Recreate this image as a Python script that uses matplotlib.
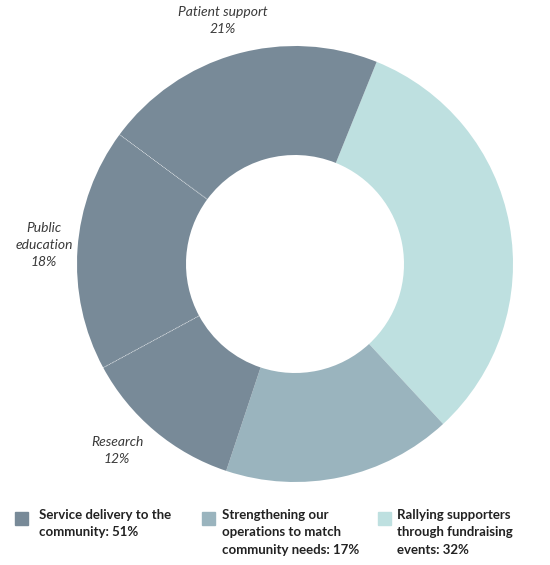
import numpy as np
import matplotlib.pyplot as plt
from matplotlib.patches import Rectangle

# data (clockwise from the teal wedge)
segments = ['Rallying supporters', 'Strengthening operations', 'Research', 'Public education', 'Patient support']
shares = [32, 17, 12, 18, 21]
seg_colors = ['#bee0e0', '#9ab4be', '#788a98', '#788a98', '#788a98']

wedge_labels = ['Research\n12%', 'Public\neducation\n18%', 'Patient support\n21%']
legend_labels = ['Service delivery to the\ncommunity: 51%',
                 'Strengthening our\noperations to match\ncommunity needs: 17%',
                 'Rallying supporters\nthrough fundraising\nevents: 32%']
legend_colors = ['#788a98', '#9ab4be', '#bee0e0']

plt.rcParams['font.family'] = ['Lato', 'DejaVu Sans']

fig = plt.figure(figsize=(5.5, 5.65), dpi=100)
W, H = 550, 565
cx, cy, r = 295, 264, 218
ax = fig.add_axes([(cx - r) / W, (H - cy - r) / H, 2 * r / W, 2 * r / H])
start = 68
ax.pie(shares, colors=seg_colors, startangle=start, counterclock=False,
       radius=1, wedgeprops=dict(width=0.5, linewidth=0))
ax.set_xlim(-1, 1)
ax.set_ylim(-1, 1)
ax.set_aspect('equal')
ax.axis('off')

# dotted separators between the dark wedges
cum = np.cumsum(shares)
for k in [2, 3]:
    ang = np.deg2rad(start - cum[k] / 100 * 360)
    ax.plot([0.5 * np.cos(ang), np.cos(ang)], [0.5 * np.sin(ang), np.sin(ang)],
            color='white', lw=0.6, ls=(0, (1, 1)), alpha=0.7)

# wedge labels
txt = '#3a3a3a'
lab = dict(ha='center', va='top', style='italic', fontsize=10, color=txt, linespacing=1.5)
fig.text(223 / W, 1 - 6 / H, wedge_labels[2], **lab)
fig.text(44 / W, 1 - 222 / H, wedge_labels[1], **lab)
fig.text(117 / W, 1 - 436 / H, wedge_labels[0], **lab)

# legend
sq_x = [15, 202, 378]
tx_x = [39, 222, 397]
for i in range(3):
    fig.patches.append(Rectangle((sq_x[i] / W, 1 - 525 / H), 13 / W, 13 / H,
                                 transform=fig.transFigure, color=legend_colors[i]))
    fig.text(tx_x[i] / W, 1 - 509 / H, legend_labels[i], ha='left', va='top',
             fontsize=9.5, fontweight='bold', color='#222222', linespacing=1.55)

fig.savefig('out.png', dpi=100, facecolor='white')
